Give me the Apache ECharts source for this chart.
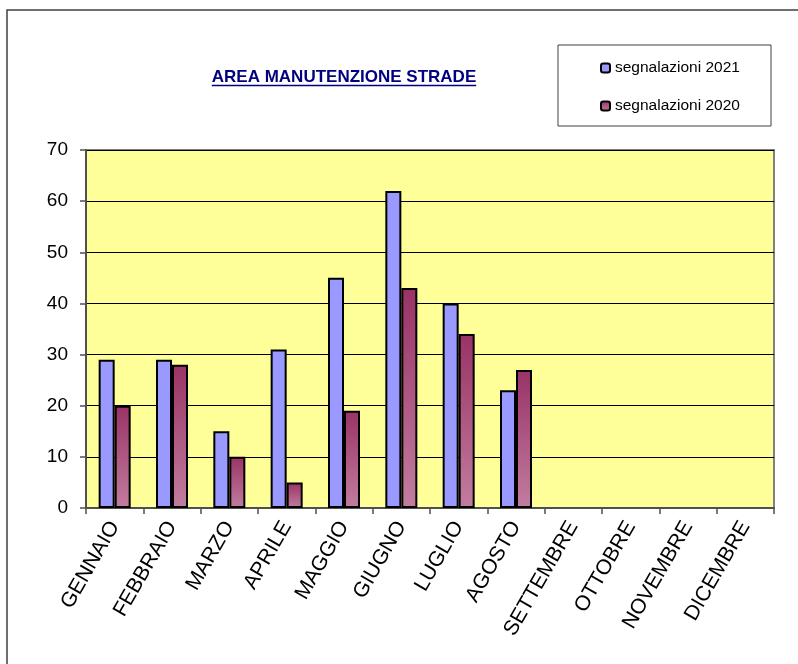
<!DOCTYPE html>
<html>
<head>
<meta charset="utf-8">
<script src="https://cdn.jsdelivr.net/npm/echarts@6/dist/echarts.min.js"></script>
<style>
  html, body { margin: 0; padding: 0; background: #ffffff; }
  #chart { width: 798px; height: 664px; }
</style>
</head>
<body>
<div id="chart"></div>
<script>
// Monthly road-maintenance reports, two years side by side
const months = ['GENNAIO', 'FEBBRAIO', 'MARZO', 'APRILE', 'MAGGIO', 'GIUGNO',
                'LUGLIO', 'AGOSTO', 'SETTEMBRE', 'OTTOBRE', 'NOVEMBRE', 'DICEMBRE'];
const reports2021 = [29, 29, 15, 31, 45, 62, 40, 23, null, null, null, null];
const reports2020 = [20, 28, 10, 5, 19, 43, 34, 27, null, null, null, null];
const yTicks = [0, 10, 20, 30, 40, 50, 60, 70];

const titleText = 'AREA MANUTENZIONE STRADE';
const FONT = '"Liberation Sans", Arial, sans-serif';

// measure the title so the underline spans it exactly
const ctx = document.createElement('canvas').getContext('2d');
ctx.font = 'bold 17px ' + FONT;
const titleW = ctx.measureText(titleText).width;
const titleCx = 344;

const chart = echarts.init(document.getElementById('chart'));
chart.setOption({
  animation: false,
  backgroundColor: '#ffffff',
  textStyle: { fontFamily: FONT },
  grid: {
    left: 86, right: 24, top: 150, bottom: 156,
    show: true,
    backgroundColor: '#FFFF99',
    borderColor: '#808080',
    borderWidth: 2
  },
  graphic: [
    { type: 'polyline', silent: true,
      shape: { points: [[7, 700], [7, 10], [800, 10]] },
      style: { stroke: '#404040', lineWidth: 1.5, fill: null } },
    { type: 'text', silent: true, x: titleCx, y: 77,
      style: { text: titleText, font: 'bold 17px ' + FONT, fill: '#000080',
               align: 'center', verticalAlign: 'middle' } },
    { type: 'line', silent: true,
      shape: { x1: titleCx - titleW / 2, y1: 85.5, x2: titleCx + titleW / 2, y2: 85.5 },
      style: { stroke: '#000080', lineWidth: 1.5 } },
    { type: 'rect', silent: true,
      shape: { x: 558, y: 45, width: 213, height: 81 },
      style: { fill: '#ffffff', stroke: '#404040', lineWidth: 1 }, z: 0 }
  ],
  legend: {
    orient: 'vertical',
    left: 600, top: 59,
    itemWidth: 9, itemHeight: 9,
    itemGap: 20,
    padding: 0,
    textStyle: { fontSize: 15.5, color: '#000', fontFamily: FONT, lineHeight: 18 },
    data: ['segnalazioni 2021', 'segnalazioni 2020'],
    z: 5
  },
  xAxis: {
    type: 'category',
    data: months,
    axisLine: { lineStyle: { color: '#505050', width: 2 } },
    axisTick: { show: true, length: 6, lineStyle: { color: '#505050', width: 1.5 } },
    axisLabel: { interval: 0, rotate: 60, fontSize: 21, color: '#000', margin: 15, fontFamily: FONT },
    splitLine: { show: false }
  },
  yAxis: {
    type: 'value',
    min: 0, max: 70, interval: 10,
    axisLine: { show: true, lineStyle: { color: '#505050', width: 2 } },
    axisTick: { show: true, length: 6, lineStyle: { color: '#505050', width: 1.5 } },
    axisLabel: { fontSize: 19, color: '#000', margin: 18, fontFamily: FONT,
                 formatter: v => yTicks.includes(v) ? String(v) : '' },
    splitLine: { show: true, lineStyle: { color: '#000', width: 1 } }
  },
  series: [
    {
      name: 'segnalazioni 2021',
      type: 'bar',
      data: reports2021,
      barWidth: 16,
      barGap: '0%',
      itemStyle: { color: '#9999FF', borderColor: '#000', borderWidth: 2 }
    },
    {
      name: 'segnalazioni 2020',
      type: 'bar',
      data: reports2020,
      barWidth: 16,
      barGap: '0%',
      itemStyle: {
        color: new echarts.graphic.LinearGradient(0, 0, 0, 1, [
          { offset: 0, color: '#993366' },
          { offset: 1, color: '#C27D9F' }
        ]),
        borderColor: '#000', borderWidth: 2
      }
    }
  ]
});
</script>
</body>
</html>
